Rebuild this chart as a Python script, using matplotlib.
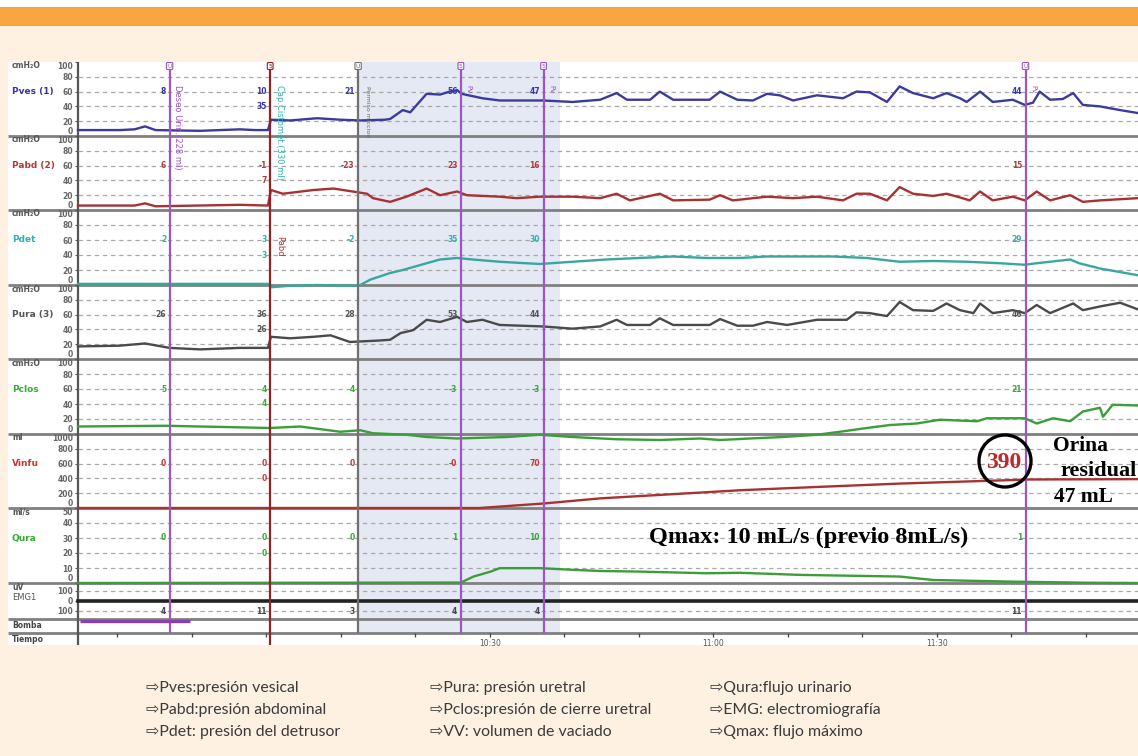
import matplotlib
matplotlib.use("Agg")
import matplotlib.pyplot as plt
from matplotlib.patches import Rectangle, Circle

W, H = 1138, 756

# tiempo en minutos desde las 10:00
T_MIN, T_MAX = -25.3, 117.0
EV_T = [-13.0, 0.5, 12.3, 26.1, 37.2, 101.9]
EV_COL = ["#9c55c2", "#8e2424", "#707070", "#9c55c2", "#9c55c2", "#9c55c2"]
EV_MARK = ["U", "5", "U", "5", "5", "U"]
SHADE = (12.3, 39.4)
BOMBA_T = [-25.0, -10.3]
TIME_TICKS = [-20, -10, 0, 10, 20, 30, 40, 50, 60, 70, 80, 90, 100, 110]
TIME_LABELS = {30: "10:30", 60: "11:00", 90: "11:30"}

PVES_T = [-25.3, -19.7, -17.7, -16.3, -14.9, -8.9, -3.6, -1.5, 0.2, 0.6, 3.2, 6.8, 9.9,
          12.6, 15.9, 16.6, 18.3, 19.3, 21.5, 23.3, 24.6, 25.6, 26.2, 29.0, 31.3, 37.1,
          41.1, 44.8, 47.0, 48.4, 51.5, 52.8, 54.6, 59.5, 60.9, 63.2, 65.3, 67.2, 68.9,
          70.7, 73.9, 77.4, 79.2, 81.0, 83.3, 85.0, 86.8, 89.5, 91.3, 93.1, 94.0, 95.8,
          97.5, 100.2, 101.8, 102.9, 103.8, 105.2, 106.9, 108.3, 109.6, 111.9, 114.6, 117.0]
PVES_V = [8, 8, 9, 13, 8, 7, 9, 8, 8, 22, 21, 24, 22,
          21, 22, 23, 35, 32, 57, 56, 60, 62, 57, 51, 48, 48,
          46, 49, 58, 49, 49, 60, 49, 49, 60, 49, 48, 57, 55,
          48, 55, 51, 60, 59, 46, 67, 58, 51, 58, 51, 46, 60,
          46, 49, 42, 45, 60, 49, 50, 58, 42, 40, 35, 31]

PABD_T = [-25.3, -17.7, -16.3, -14.9, -3.6, 0.2, 0.6, 2.2, 6.3, 9.0, 13.5, 14.3, 16.6,
          18.8, 21.5, 23.3, 25.6, 26.9, 31.3, 33.6, 36.7, 41.1, 44.8, 47.0, 48.8, 52.8,
          54.6, 59.5, 60.9, 62.6, 67.2, 70.7, 73.9, 77.4, 79.2, 81.0, 83.3, 85.0, 86.8,
          89.5, 91.3, 93.1, 94.4, 95.8, 97.5, 100.2, 101.8, 103.4, 105.2, 107.9, 109.6,
          111.9, 117.0]
PABD_V = [6, 6, 9, 5, 7, 6, 27, 22, 27, 29, 22, 16, 11,
          18, 29, 20, 25, 20, 18, 16, 18, 18, 16, 22, 13, 22,
          13, 14, 20, 13, 18, 16, 18, 13, 22, 22, 13, 31, 22,
          19, 22, 17, 13, 25, 13, 18, 13, 25, 13, 20, 11,
          13, 16]

PDET_T = [-25.3, 0.2, 0.6, 3.2, 6.8, 12.0, 12.6, 13.9, 16.6, 18.3, 21.5, 23.3, 25.6,
          27.7, 31.3, 36.7, 41.1, 45.6, 50.0, 54.6, 59.1, 63.6, 67.2, 76.0, 80.6, 85.0,
          89.5, 94.0, 98.5, 101.8, 103.4, 107.9, 109.1, 111.9, 117.0]
PDET_V = [1.5, 1.5, -3, -1, 0, -1, 0, 7, 16, 20, 29, 34, 36,
          34, 31, 28, 31, 34, 36, 38, 36, 36, 38, 38, 36, 31,
          32, 31, 29, 27, 29, 34, 29, 22, 13]

PURA_T = [-25.3, -19.7, -16.3, -13.0, -8.9, -3.6, 0.2, 0.6, 3.2, 6.3, 8.6, 11.2, 15.2,
          16.6, 18.0, 19.7, 21.5, 23.3, 25.6, 26.9, 29.0, 31.3, 37.1, 41.1, 44.8, 47.0,
          48.4, 51.5, 52.8, 54.6, 59.5, 60.9, 63.2, 65.3, 67.2, 69.9, 73.9, 77.9, 79.2,
          81.0, 83.3, 85.0, 86.8, 89.5, 91.3, 93.1, 94.9, 95.8, 97.5, 100.2, 101.8, 103.4,
          105.2, 108.3, 109.6, 111.9, 114.6, 117.0]
PURA_V = [17, 18, 21, 15, 13, 15, 15, 30, 28, 30, 32, 23, 25,
          26, 35, 39, 53, 50, 57, 50, 53, 46, 44, 41, 44, 53,
          46, 46, 55, 46, 46, 54, 45, 45, 50, 46, 53, 53, 63,
          62, 58, 77, 66, 65, 75, 66, 62, 75, 62, 66, 62, 73,
          62, 75, 66, 71, 76, 67]

PCLOS_T = [-25.3, -13.6, 0.5, 4.5, 9.9, 12.6, 14.3, 18.8, 21.5, 25.6, 32.3, 36.7, 41.1,
           47.0, 52.8, 58.2, 60.9, 64.9, 69.3, 73.9, 77.0, 80.6, 83.7, 87.3, 90.4, 95.4,
           96.7, 101.8, 103.4, 105.6, 107.9, 109.6, 111.9, 112.3, 113.6, 117.0]
PCLOS_V = [10, 11, 8, 10, 3, 5, 1, -1, -4, -6, -4, -1, -4,
           -7, -8, -6, -8, -6, -4, -1, 3, 8, 12, 14, 19, 17,
           21, 21, 14, 21, 17, 30, 35, 23, 39, 38]

VINFU_T = [-25.3, 28.6, 37.1, 44.8, 63.6, 71.7, 85.0, 100.2, 101.9, 117.0]
VINFU_V = [0, 0, 60, 130, 240, 275, 330, 378, 385, 390]

QURA_T = [-25.3, 26.1, 27.8, 30.1, 31.3, 36.7, 41.1, 44.8, 50.1, 59.1, 63.6, 71.7, 85.0,
          89.5, 100.2, 110.0, 117.0]
QURA_V = [0, 0.3, 4.3, 7.6, 9.9, 9.9, 8.8, 8.0, 7.6, 6.5, 6.8, 5.4, 4.3,
          2.0, 0.9, 0.2, 0]

EMG_T = [-25.3, 117.0]
EMG_V = [0, 0]

PVES_LBL = ["8", "10", "21", "56", "47", "44"]
PABD_LBL = ["6", "-1", "-23", "23", "16", "15"]
PDET_LBL = ["2", "3", "-2", "35", "30", "29"]
PURA_LBL = ["26", "36", "28", "53", "44", "46"]
PCLOS_LBL = ["5", "4", "4", "-3", "-3", "21"]
VINFU_LBL = ["0", "0", "0", "-0", "70", ""]
QURA_LBL = ["0", "0", "0", "1", "10", "1"]
EMG_LBL = ["4", "11", "3", "4", "4", "11"]
SECOND_LBL = ["35", "7", "3", "26", "4", "0", "0", ""]

LEGEND = [
    ["Pves:presión vesical", "Pabd:presión abdominal", "Pdet: presión del detrusor"],
    ["Pura: presión uretral", "Pclos:presión de cierre uretral", "VV: volumen de vaciado"],
    ["Qura:flujo urinario", "EMG: electromiografía", "Qmax: flujo máximo"],
]

PRESS_TICKS = [0, 20, 40, 60, 80, 100]
channels = [
    dict(name="Pves (1)", unit="cmH\u2082O", t=PVES_T, v=PVES_V, color="#3b3b9c", lcol="#3535a8",
         band=(62, 136), ylim=(0, 100), ticks=PRESS_TICKS, lbl=PVES_LBL, lv=60, lv2=40),
    dict(name="Pabd (2)", unit="cmH\u2082O", t=PABD_T, v=PABD_V, color="#a83232", lcol="#b03a3a",
         band=(136, 210), ylim=(0, 100), ticks=PRESS_TICKS, lbl=PABD_LBL, lv=60, lv2=40),
    dict(name="Pdet", unit="cmH\u2082O", t=PDET_T, v=PDET_V, color="#3aa6a0", lcol="#2fb2b0",
         band=(210, 285), ylim=(0, 100), ticks=PRESS_TICKS, lbl=PDET_LBL, lv=60, lv2=40),
    dict(name="Pura (3)", unit="cmH\u2082O", t=PURA_T, v=PURA_V, color="#4a4a4a", lcol="#555555",
         band=(285, 359), ylim=(0, 100), ticks=PRESS_TICKS, lbl=PURA_LBL, lv=60, lv2=40),
    dict(name="Pclos", unit="cmH\u2082O", t=PCLOS_T, v=PCLOS_V, color="#3a9e3a", lcol="#35aa35",
         band=(359, 434), ylim=(0, 100), ticks=PRESS_TICKS, lbl=PCLOS_LBL, lv=60, lv2=40),
    dict(name="Vinfu", unit="ml", t=VINFU_T, v=VINFU_V, color="#a83232", lcol="#cc3535",
         band=(434, 508), ylim=(0, 1000), ticks=[0, 200, 400, 600, 800, 1000], lbl=VINFU_LBL,
         lv=600, lv2=400),
    dict(name="Qura", unit="ml/s", t=QURA_T, v=QURA_V, color="#3a9e3a", lcol="#35aa35",
         band=(508, 583), ylim=(0, 50), ticks=[0, 10, 20, 30, 40, 50], lbl=QURA_LBL, lv=30, lv2=20),
    dict(name="EMG1", unit="uV", t=EMG_T, v=EMG_V, color="#222222", lcol="#444444",
         band=(583, 619), ylim=(-180, 180), ticks=[-100, 0, 100], lbl=EMG_LBL, lv=-100, lv2=None),
]


def px_axes(x0, y0, x1, y1, z):
    ax = fig.add_axes([x0 / W, 1 - y1 / H, (x1 - x0) / W, (y1 - y0) / H])
    ax.set_zorder(z)
    ax.patch.set_alpha(0)
    return ax


fig = plt.figure(figsize=(W / 100, H / 100), dpi=100)
fig.patch.set_facecolor("#fef1e2")

# fondo, banda naranja y area blanca
ax_bg = px_axes(0, 0, W, H, 0)
ax_bg.set_xlim(0, W)
ax_bg.set_ylim(H, 0)
ax_bg.axis("off")
ax_bg.add_patch(Rectangle((0, 0), W, 7, color="white", lw=0))
ax_bg.add_patch(Rectangle((0, 7), W, 19, color="#f8a63f", lw=0))
ax_bg.add_patch(Rectangle((8, 62), W - 8, 583, color="white", lw=0))

# zona sombreada (fase miccional)
ax_sh = px_axes(78, 62, W, 645, 1)
ax_sh.set_xlim(T_MIN, T_MAX)
ax_sh.set_ylim(645, 62)
ax_sh.axis("off")
ax_sh.fill_betweenx([62, 633], SHADE[0], SHADE[1], color="#e5e9f4", lw=0)

# separadores y columna de etiquetas
ax_ln = px_axes(0, 0, W, H, 2)
ax_ln.set_xlim(0, W)
ax_ln.set_ylim(H, 0)
ax_ln.axis("off")
ax_ln.hlines([136, 210, 285, 359, 434, 508, 583, 619, 633], 8, W, color="#808080", lw=2)
ax_ln.vlines(78, 62, 645, color="#555555", lw=1.6)

for ch in channels:
    top, bot = ch["band"]
    y0, y1 = ch["ylim"]
    ax = px_axes(78, top, W, bot, 3)
    ax.set_xlim(T_MIN, T_MAX)
    ax.set_ylim(y0, y1)
    for s in ax.spines.values():
        s.set_visible(False)
    ax.set_xticks([])
    ax.set_yticks(ch["ticks"])
    tl = ax.set_yticklabels([str(abs(k)) for k in ch["ticks"]], fontsize=5.5, color="#666666",
                            fontweight="bold")
    if ch["ylim"][0] == 0:
        tl[0].set_va("bottom")
        tl[-1].set_va("top")
    ax.tick_params(axis="y", length=2.5, width=0.8, pad=1, color="#555555")
    for g in ch["ticks"]:
        if y0 < g < y1 and not (ch["name"] == "EMG1" and g == 0):
            ax.axhline(g, color="#a8a8a8", lw=0.9, ls=(0, (3.5, 3)), zorder=1)
    ax.plot(ch["t"], ch["v"], color=ch["color"], lw=1.7 if ch["name"] != "EMG1" else 2.6,
            clip_on=False, zorder=3, solid_joinstyle="round")
    for te, lab in zip(EV_T, ch["lbl"]):
        ax.annotate(lab, (te, ch["lv"]), xytext=(-2.5, 0), textcoords="offset points",
                    ha="right", va="center", fontsize=5.5, color=ch["lcol"], fontweight="bold")
    i = channels.index(ch)
    if ch["lv2"] is not None and SECOND_LBL[i]:
        ax.annotate(SECOND_LBL[i], (EV_T[1], ch["lv2"]), xytext=(-2.5, 0),
                    textcoords="offset points", ha="right", va="center", fontsize=5.5,
                    color=ch["lcol"], fontweight="bold")
    # nombre y unidad del canal
    if ch["name"] == "EMG1":
        ax_ln.text(12, 588, ch["unit"], fontsize=5.5, color="#555555", fontweight="bold", va="center")
        ax_ln.text(12, 597, ch["name"], fontsize=6, color="#555555", va="center")
    else:
        y60 = bot - (ch["lv"] - y0) / (y1 - y0) * (bot - top)
        ax_ln.text(12, top + 4, ch["unit"], fontsize=5.5, color="#555555", fontweight="bold",
                   va="center")
        ax_ln.text(12, y60, ch["name"], fontsize=6.5, color=ch["lcol"], fontweight="bold",
                   va="center")

ax_ln.text(12, 626, "Bomba", fontsize=5.5, color="#444444", fontweight="bold", va="center")
ax_ln.text(12, 639, "Tiempo", fontsize=5.5, color="#444444", fontweight="bold", va="center")

# marcas de eventos, bomba y eje de tiempo
ax_ev = px_axes(78, 62, W, 645, 4)
ax_ev.set_xlim(T_MIN, T_MAX)
ax_ev.set_ylim(645, 62)
ax_ev.axis("off")
for te, col, mk in zip(EV_T, EV_COL, EV_MARK):
    ax_ev.vlines(te, 70, 645 if col == "#8e2424" else 633, color=col, lw=1.6)
    ax_ev.text(te, 66, mk, fontsize=4.5, color=col, ha="center", va="center",
               bbox=dict(boxstyle="round,pad=0.15", fc="white", ec=col, lw=0.8))
ax_ev.text(EV_T[0] + 1.0, 85, "Deseo Urin.(228 ml)", rotation=270, rotation_mode="anchor",
           ha="left", va="center", fontsize=6, color="#9c55c2")
ax_ev.text(EV_T[1] + 1.3, 85, "Cap.Cistomet.(330 ml)", rotation=270, rotation_mode="anchor",
           ha="left", va="center", fontsize=6, color="#2fb2b0")
ax_ev.text(EV_T[2] + 1.2, 86, "Permiso miccion", rotation=270, rotation_mode="anchor",
           ha="left", va="center", fontsize=4.5, color="#666666")
ax_ev.text(EV_T[1] + 1.3, 236, "Pabd", rotation=270, rotation_mode="anchor",
           ha="left", va="center", fontsize=6, color="#b03a3a")
for k in (3, 4, 5):
    ax_ev.text(EV_T[k] + 1.0, 85, "Pv", rotation=270, rotation_mode="anchor",
               ha="left", va="center", fontsize=5, color="#9c55c2")
ax_ev.plot(BOMBA_T, [621, 621], color="#8a3fb0", lw=2.4, solid_capstyle="butt")
ax_ev.vlines(TIME_TICKS, 633, 636.5, color="#444444", lw=0.9)
for tk, lab in TIME_LABELS.items():
    ax_ev.text(tk, 643, lab, fontsize=5.5, color="#555555", ha="center", va="center")

# anotaciones y leyenda
ax_tx = px_axes(0, 0, W, H, 5)
ax_tx.set_xlim(0, W)
ax_tx.set_ylim(H, 0)
ax_tx.axis("off")
serif = dict(family="Liberation Serif", fontweight="bold")
ax_tx.add_patch(Circle((1005, 461), 26, fill=False, ec="black", lw=2.4))
ax_tx.text(1004, 463, "390", color="#c02828", fontsize=17, ha="center", va="center", **serif)
ax_tx.text(1081, 446, "Orina", fontsize=15.5, ha="center", va="center", **serif)
ax_tx.text(1099, 471, "residual", fontsize=16, ha="center", va="center", **serif)
ax_tx.text(1083, 497, "47 mL", fontsize=15.5, ha="center", va="center", **serif)
ax_tx.text(809, 537, "Qmax: 10 mL/s (previo 8mL/s)", fontsize=17.5, ha="center", va="center",
           **serif)

col_x = [146, 430, 710]
row_y = [688, 710, 732]
for cx, col in zip(col_x, LEGEND):
    for ry, item in zip(row_y, col):
        ax_tx.text(cx, ry, "\u21e8" + item, fontsize=11.4, color="#3a3a3a", va="center",
                   family=["Lato", "DejaVu Sans"])

fig.savefig("out.png", dpi=100)
